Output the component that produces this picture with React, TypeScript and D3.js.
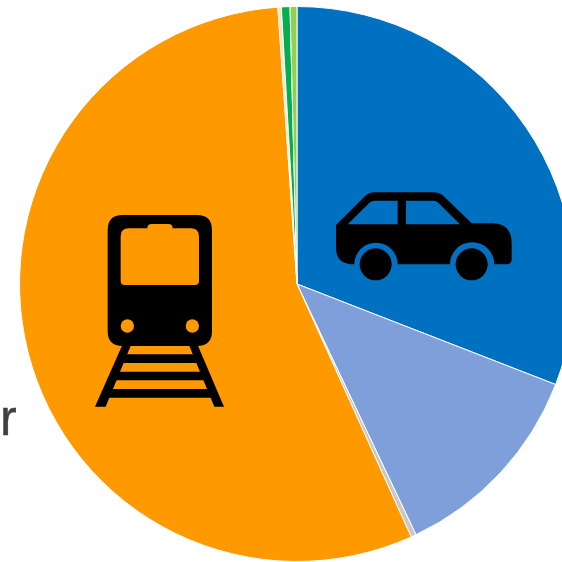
import React from 'react';
import * as d3 from 'd3';

const categories = ['Car', 'Bus', 'Other', 'Train', 'Bike', 'Walk', 'Tram'];
const shares = [30.9, 12.05, 0.3, 55.65, 0.2, 0.5, 0.4];
const colors = ['#0070C0', '#7F9FDA', '#C8C8C8', '#FF9900', '#FFE3B0', '#00B050', '#92D050'];

const size = 562;
const cx = 297;
const cy = 284;
const radius = 277.5;

const TrainIcon = () => (
  // traced at 3x, hence the scale
  <g transform="translate(85,205) scale(0.3333)" fill="#000">
    <path
      fillRule="evenodd"
      d="M113 30H336Q381 30 381 75V378Q381 423 336 423H113Q68 423 68 378V75Q68 30 113 30Z
         M132 70Q107 70 107 95V228Q107 240 119 240H330Q342 240 342 228V95Q342 70 317 70H263Q263 57 250 57H200Q187 57 187 70Z"
    />
    <circle cx={127} cy={363} r={20} fill="#FF9900" />
    <circle cx={322} cy={363} r={20} fill="#FF9900" />
    <path d="M112 420H138L62 605H30Z" />
    <path d="M312 420H338L417 605H388Z" />
    <path d="M125 448H325L336 474H114Z" />
    <path d="M102 500H347L358 526H92Z" />
    <path d="M80 552H370L380 578H68Z" />
  </g>
);

const CarIcon = () => (
  <g transform="translate(325,180) scale(0.3333)">
    <path
      fill="#000"
      d="M33 135L118 50Q131 37 148 37H325Q345 37 358 50L440 130H505Q560 132 560 190V238Q560 253 545 253H508A66.5 66.5 0 0 0 375 253H218A65 65 0 0 0 88 253Q33 253 33 205Z"
    />
    <circle cx={152} cy={253} r={48} fill="#000" />
    <circle cx={440} cy={253} r={48} fill="#000" />
    <path fill="#0070C0" d="M68 133H218V62H150Q141 62 135 67Z" />
    <path fill="#0070C0" d="M243 133H405L340 68Q334 62 325 62H243Z" />
  </g>
);

export default function App() {
  const pie = d3.pie<number>().sort(null).value(d => d);
  const arc = d3.arc<d3.PieArcDatum<number>>().innerRadius(0).outerRadius(radius);
  const slices = pie(shares);

  return (
    <svg
      width={size}
      height={size}
      viewBox={`0 0 ${size} ${size}`}
      style={{ position: 'absolute', top: 0, left: 0, display: 'block', background: '#fff' }}
    >
      <text x={0} y={435} fontFamily="Liberation Sans" fontSize={50} fill="#404040" stroke="#404040" strokeWidth={0.4}>r</text>
      <g transform={`translate(${cx},${cy})`}>
        {slices.map((s, i) => (
          <path key={categories[i]} d={arc(s) || ''} fill={colors[i]} stroke="#fff" strokeWidth={1} />
        ))}
      </g>
      <TrainIcon />
      <CarIcon />
    </svg>
  );
}
